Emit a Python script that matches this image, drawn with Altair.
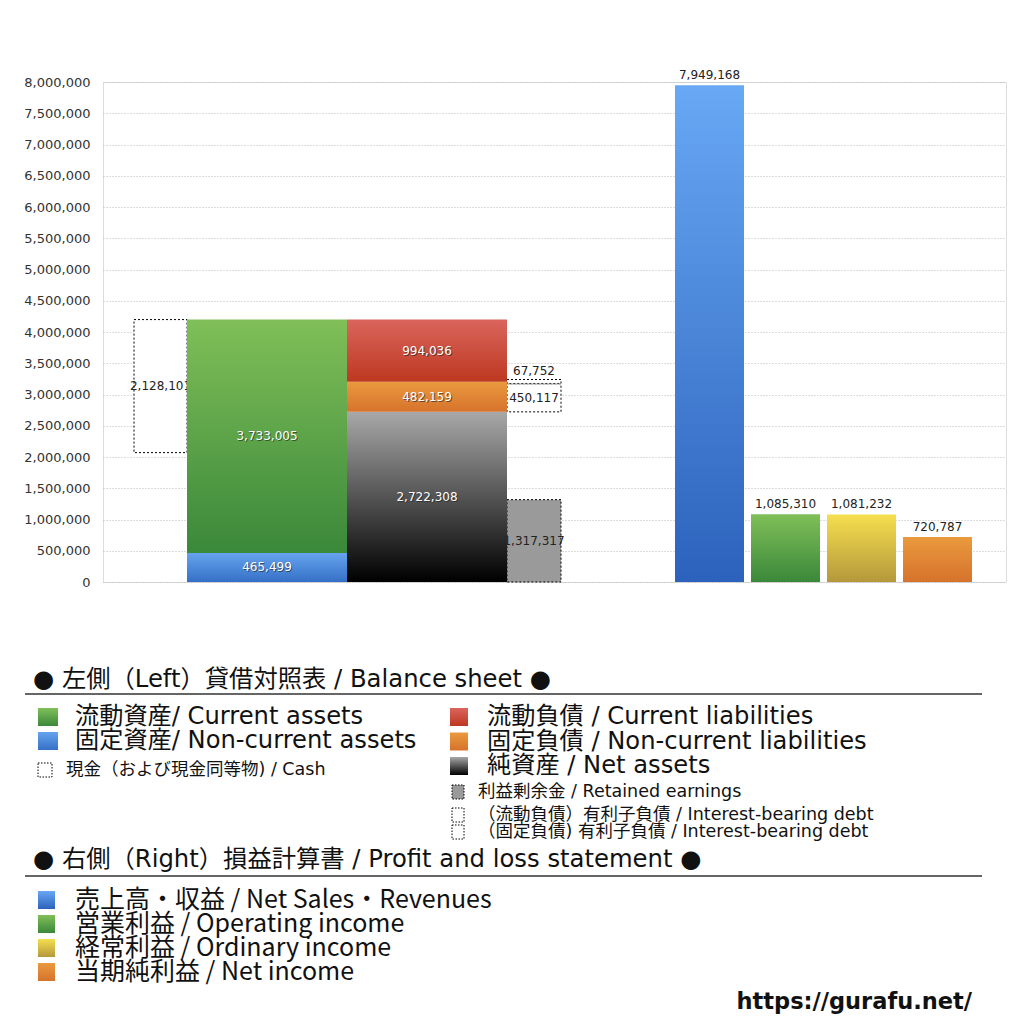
import altair as alt
import pandas as pd

FONT = "'DejaVu Sans', 'Noto Sans CJK JP'"
FONT_CJK = "'Noto Sans CJK JP'"

# ---------------- data ----------------
assets_names = ["固定資産", "流動資産"]
assets_values = [465499, 3733005]
cash_value = 2128101
liab_names = ["純資産", "固定負債", "流動負債"]
liab_values = [2722308, 482159, 994036]
retained_value = 1317317
ibd_names = ["固定負債有利子負債", "流動負債有利子負債"]
ibd_values = [450117, 67752]
pl_names = ["売上高・収益", "営業利益", "経常利益", "当期純利益"]
pl_values = [7949168, 1085310, 1081232, 720787]
y_ticks = list(range(0, 8000001, 500000))

legend_bs_title = "● 左側（Left）貸借対照表 / Balance sheet ●"
legend_left_big = ["流動資産/ Current assets", "固定資産/ Non-current assets"]
legend_left_small = ["現金（および現金同等物) / Cash"]
legend_right_big = ["流動負債 /  Current liabilities", "固定負債 / Non-current liabilities", "純資産 / Net assets"]
legend_right_small = ["利益剰余金 / Retained earnings",
                      "（流動負債）有利子負債 / Interest-bearing debt",
                      "（固定負債) 有利子負債 / Interest-bearing debt"]
legend_pl_title = "● 右側（Right）損益計算書 / Profit and loss statement ●"
legend_pl = ["売上高・収益 / Net Sales・Revenues", "営業利益 / Operating income",
             "経常利益 / Ordinary income", "当期純利益 / Net income"]
url_text = "https://gurafu.net/"

# ---------------- layout (x units) ----------------
W, H = 903, 500
slot_cash = (31, 84)
slot_assets = (84, 244)
slot_liab = (244, 404)
slot_side = (404, 458)
pl_start, pl_width, pl_step = 572, 69, 76


def grad(top, bottom):
    return alt.LinearGradient(gradient="linear", x1=0, x2=0, y1=0, y2=1,
                              stops=[alt.GradientStop(offset=0, color=top),
                                     alt.GradientStop(offset=1, color=bottom)])


G_GREEN = grad("#80bf58", "#3a883a")
G_BLUE = grad("#66a3ee", "#3570c6")
G_RED = grad("#da655d", "#bd3820")
G_ORANGE = grad("#ea9a3e", "#d6722c")
G_BLACK = grad("#a8a8a8", "#000000")
G_SALES = grad("#68a8f4", "#2c62bc")
G_YELLOW = grad("#f5df4e", "#b4983c")

rows = []


def add(key, slot, lo, hi, val):
    rows.append(dict(key=key, x0=slot[0], x1=slot[1], lo=lo, hi=hi,
                     xm=(slot[0] + slot[1]) / 2, ym=(lo + hi) / 2, label=f"{val:,}"))


cum = 0
for n, v in zip(assets_names, assets_values):
    add(n, slot_assets, cum, cum + v, v)
    cum += v
total_assets = cum
add("cash", slot_cash, total_assets - cash_value, total_assets, cash_value)
cum = 0
for n, v in zip(liab_names, liab_values):
    add(n, slot_liab, cum, cum + v, v)
    cum += v
add("retained", slot_side, 0, retained_value, retained_value)
cum = liab_values[0]
for n, v in zip(ibd_names, ibd_values):
    add(n, slot_side, cum, cum + v, v)
    cum += v
for i, (n, v) in enumerate(zip(pl_names, pl_values)):
    s = pl_start + pl_step * i
    add(n, (s, s + pl_width), 0, v, v)

df = pd.DataFrame(rows)

xs = alt.Scale(domain=[0, W], nice=False, zero=False)
ys = alt.Scale(domain=[0, 8000000], nice=False)
yaxis = alt.Axis(values=y_ticks, labelExpr="format(datum.value, ',')", title=None,
                 domain=False, ticks=False,
                 labelPadding=13, labelFontSize=13, labelColor="#333", labelFont=FONT,
                 grid=True, gridColor="#bbbbbb", gridDash=[1, 2], gridWidth=1)

base = alt.Chart(df)
NUM = 12


def rect(key, **mk):
    return base.transform_filter(alt.datum.key == key).mark_rect(**mk).encode(
        x=alt.X("x0:Q", scale=xs, axis=None), x2="x1:Q",
        y=alt.Y("lo:Q", scale=ys, axis=yaxis), y2="hi:Q")


def label(key, color="white", shadow=True, ypos="ym", **mk):
    enc = dict(x=alt.X("xm:Q", scale=xs, axis=None),
               y=alt.Y(f"{ypos}:Q", scale=ys, axis=yaxis), text="label:N")
    out = []
    if shadow:
        out.append(base.transform_filter(alt.datum.key == key).mark_text(
            color="#222", opacity=0.6, dx=1, dy=1, fontSize=NUM, font=FONT, **mk).encode(**enc))
    out.append(base.transform_filter(alt.datum.key == key).mark_text(
        color=color, fontSize=NUM, font=FONT, **mk).encode(**enc))
    return out


DASH = dict(stroke="black", strokeDash=[2, 2], strokeWidth=1)

layers = []
layers.append(rect("cash", fill="white", **DASH))
layers += label("cash", color="#222", shadow=False)
layers.append(rect(assets_names[0], fill=G_BLUE))
layers.append(rect(assets_names[1], fill=G_GREEN))
layers += label(assets_names[0])
layers += label(assets_names[1])
layers.append(rect("retained", fill="#9a9a9a", **DASH))
layers += label("retained", color="#222", shadow=False)
layers.append(rect(ibd_names[0], fill="white", **DASH))
layers.append(rect(ibd_names[1], fill="white", **DASH))
layers += label(ibd_names[0], color="#222", shadow=False)
layers += label(ibd_names[1], color="#222", shadow=False, ypos="hi", baseline="bottom", dy=-1)
for n, g in zip(liab_names, [G_BLACK, G_ORANGE, G_RED]):
    layers.append(rect(n, fill=g))
for n in liab_names:
    layers += label(n)
for n, g in zip(pl_names, [G_SALES, G_GREEN, G_YELLOW, G_ORANGE]):
    layers.append(rect(n, fill=g))
    layers += label(n, color="#222", shadow=False, ypos="hi", baseline="bottom", dy=-3)

# ---------------- legend (pixel positions relative to plot) ----------------
one = alt.Data(values=[{}])


def txt(s, x, y, size, weight="normal", align="left", font=FONT):
    return alt.Chart(one).mark_text(text=s, align=align, baseline="middle", fontSize=size,
                                    font=font, fontWeight=weight, color="#111").encode(
        x=alt.value(x), y=alt.value(y))


def sq(x0, y0, x1, y1, fill, dashed=False):
    kw = dict(fill=fill)
    if dashed:
        kw.update(stroke="black", strokeDash=[1.5, 1.5], strokeWidth=1)
    return alt.Chart(one).mark_rect(**kw).encode(
        x=alt.value(x0), x2=alt.value(x1), y=alt.value(y0), y2=alt.value(y1))


def hline(y):
    return alt.Chart(one).mark_rule(color="#333", strokeWidth=1.3).encode(
        x=alt.value(-78), x2=alt.value(879), y=alt.value(y))


BIG, SMALL, HEAD = 24.2, 17.5, 24.3
leg = []
leg.append(txt(legend_bs_title, -70, 598, HEAD))
leg.append(hline(612))
for i, (s, g) in enumerate(zip(legend_left_big, [G_GREEN, G_BLUE])):
    c = 635 + 24 * i
    leg.append(sq(-65, c - 9, -45, c + 9, g))
    leg.append(txt(s, -28, c, BIG))
leg.append(sq(-65, 681, -51, 695, "white", dashed=True))
leg.append(txt(legend_left_small[0], -37, 688, SMALL))
for i, (s, g) in enumerate(zip(legend_right_big, [G_RED, G_ORANGE, G_BLACK])):
    c = 635 + 24.5 * i
    leg.append(sq(347, c - 9, 365, c + 9, g))
    leg.append(txt(s, 384, c, BIG))
for i, (s, f) in enumerate(zip(legend_right_small, ["#9a9a9a", "white", "white"])):
    c = [710, 733, 750][i]
    leg.append(sq(349, c - 7, 361, c + 7, f, dashed=True))
    leg.append(txt(s, 375, c, SMALL))
leg.append(txt(legend_pl_title, -70, 778, HEAD))
leg.append(hline(794))
for i, (s, g) in enumerate(zip(legend_pl, [G_SALES, G_GREEN, G_YELLOW, G_ORANGE])):
    c = 818 + 24 * i
    leg.append(sq(-65, c - 9, -48, c + 9, g))
    leg.append(txt(s, -28, c, 25, font=FONT_CJK))
leg.append(txt(url_text, 869, 920, 22.5, weight="bold", align="right"))

chart = alt.layer(*layers, *leg).properties(
    width=W, height=H,
    autosize=alt.AutoSizeParams(type="none"),
    padding={"left": 95, "top": 74, "right": 10, "bottom": 436},
).configure_view(strokeWidth=0).configure(background="white")

chart.save("out.html", embed_options={"renderer": "svg", "actions": False})
